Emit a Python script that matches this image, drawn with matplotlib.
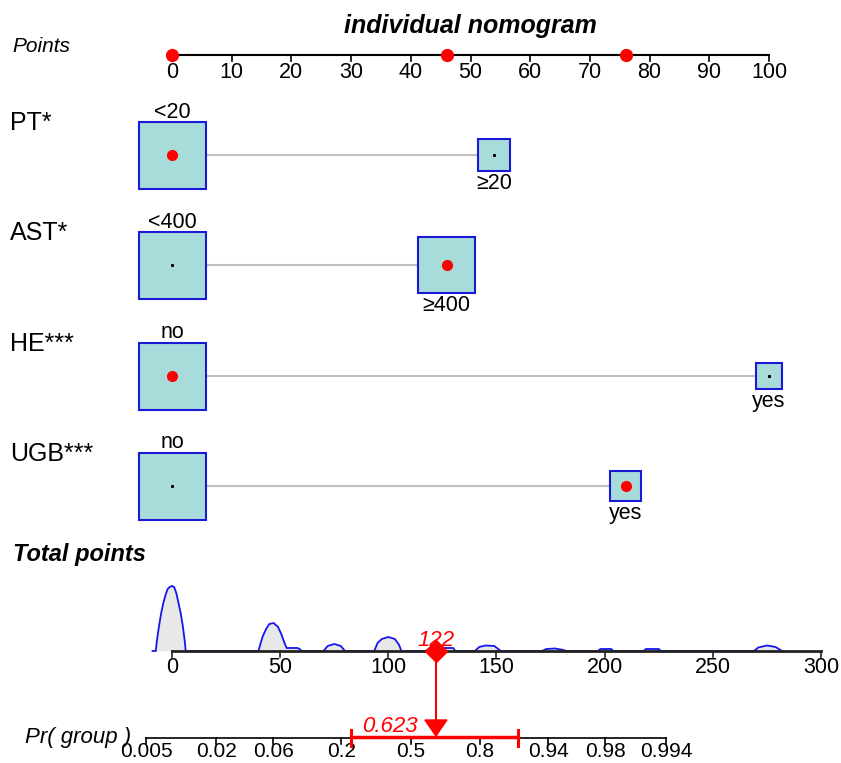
import numpy as np
import matplotlib
matplotlib.use("Agg")
import matplotlib.pyplot as plt
from matplotlib.patches import Rectangle, Polygon

plt.rcParams['font.family'] = ['Liberation Sans', 'DejaVu Sans']

# ---------------- data ----------------
title = "individual nomogram"
variables = ["PT*", "AST*", "HE***", "UGB***"]
levels = [["<20", "\u226520"], ["<400", "\u2265400"], ["no", "yes"], ["no", "yes"]]
level_points = [[0, 54], [0, 46], [0, 100], [0, 76]]
level_size = [[1.0, 0.48], [1.0, 0.84], [1.0, 0.39], [1.0, 0.46]]   # relative box side
selected = [0, 1, 0, 1]

points_ticks = [0, 10, 20, 30, 40, 50, 60, 70, 80, 90, 100]
total_ticks = [0, 50, 100, 150, 200, 250, 300]
prob_ticks = [0.005, 0.02, 0.06, 0.2, 0.5, 0.8, 0.94, 0.98, 0.994]
prob_tick_labels = ["0.005", "0.02", "0.06", "0.2", "0.5", "0.8", "0.94", "0.98", "0.994"]

# linear predictor: logit(p) = lp_slope * (total - lp_center)
lp_slope = 0.0433
lp_center = 110.3
prob_value = 0.623
prob_ci = [0.232, 0.896]

# density of total points (x in total points, y = relative height)
dens_x = [-9, -8.5, -7.5, -7, -6, -5, -4, -3, -2, -1, 0, 1, 2, 3, 4, 5, 6, 6.3,
          40, 41, 42, 43.5, 45, 47, 49, 50.5, 52, 53, 58, 59, 60,
          70, 72, 75, 78, 80,
          93.5, 95, 97, 100, 103, 105, 106,
          117, 119, 121, 124, 130, 131,
          140, 142, 145, 149, 152,
          171, 173, 177, 181, 182,
          197, 198, 203, 204,
          218, 219, 225, 226,
          269, 271, 275, 279, 282]
dens_y = [0, 0, 0, 10, 25, 38, 48, 56, 62, 64, 65, 64, 58, 48, 38, 25, 8, 0,
          0, 8, 15, 22, 27, 28, 24, 17, 8, 3, 3, 2, 0,
          0, 5, 7, 5, 0,
          0, 8, 12, 14, 12, 6, 0,
          0, 2, 3, 3, 3, 0,
          0, 4, 5.5, 5, 0,
          0, 2, 2.5, 1, 0,
          0, 2, 2, 0,
          0, 2, 2, 0,
          0, 3.5, 5.5, 4, 0]

# ---------------- layout ----------------
W, H = 841, 763
X0 = 172                 # pixel of 0 on both scales
PX_PER_POINT = 5.97
PX_PER_TOTAL = 2.1633
BOX_MAX = 67             # px
row_y = [155, 265, 376, 486]
points_y = 55
total_y = 651
prob_y = 738
red = "#ff0000"
box_face = "#a8dcda"
box_edge = "#1a1ad6"

fig = plt.figure(figsize=(W / 100, H / 100), dpi=100)
ax = fig.add_axes([0, 0, 1, 1])
ax.set_xlim(-X0 / PX_PER_POINT, (W - X0) / PX_PER_POINT)
ax.set_ylim(H, 0)
ax.axis("off")
ax2 = fig.add_axes([0, 0, 1, 1])
ax2.set_xlim(-X0 / PX_PER_TOTAL, (W - X0) / PX_PER_TOTAL)
ax2.set_ylim(H, 0)
ax2.axis("off")
ax2.patch.set_alpha(0)

def ftext(x, y, s, **kw):
    fig.text(x / W, 1 - y / H, s, **kw)

# title
ftext(470, 26, title, fontsize=18, fontweight="bold", style="italic", ha="center", va="center")

# Points axis
ftext(12, 47, "Points", fontsize=15, style="italic", ha="left", va="center")
ax.plot([points_ticks[0], points_ticks[-1]], [points_y, points_y], color="black", lw=1.5, zorder=2)
for t in points_ticks:
    ax.plot([t, t], [points_y, points_y + 6], color="black", lw=1.2)
    ax.text(t, points_y + 7, str(t), fontsize=15.5, ha="center", va="top")
sel_pts = sorted(set(level_points[i][selected[i]] for i in range(len(variables))))
ax.plot(sel_pts, [points_y] * len(sel_pts), "o", color=red, ms=8.5, zorder=3)

# variable rows
for i, var in enumerate(variables):
    y = row_y[i]
    ftext(10, y - 32, var, fontsize=18, ha="left", va="center")
    sides = [BOX_MAX * s for s in level_size[i]]
    xs = level_points[i]
    # connector
    x_right0 = xs[0] + sides[0] / 2 / PX_PER_POINT
    x_left1 = xs[1] - sides[1] / 2 / PX_PER_POINT
    ax.plot([x_right0, x_left1], [y, y], color="#c0c0c0", lw=1.5, zorder=1)
    for j in range(2):
        wpt = sides[j] / PX_PER_POINT
        rect = Rectangle((xs[j] - wpt / 2, y - sides[j] / 2), wpt, sides[j],
                         facecolor=box_face, edgecolor=box_edge, lw=1.5, zorder=2)
        ax.add_patch(rect)
        if j == selected[i]:
            ax.plot(xs[j], y, "o", color=red, ms=7, zorder=3)
        else:
            ax.plot(xs[j], y, "s", color="black", ms=1.2, zorder=3)
        if j == 0:
            ax.text(xs[j], y - sides[j] / 2 + 1, levels[i][j], fontsize=15.5, ha="center", va="bottom")
        else:
            ax.text(xs[j], y + sides[j] / 2 + 2, levels[i][j], fontsize=15.5, ha="center", va="top")

# Total points
ftext(13, 555, "Total points", fontsize=17, fontweight="bold", style="italic", ha="left", va="center")
dy = [total_y - v for v in dens_y]
ax2.fill_between(dens_x, dy, total_y, color="#e8e8e8", zorder=1, lw=0)
ax2.plot(dens_x, dy, color="#1515ee", lw=1.3, zorder=2)
ax2.plot([total_ticks[0], total_ticks[-1]], [total_y, total_y], color="#222222", lw=2, zorder=3)
for t in total_ticks:
    ax2.plot([t, t], [total_y, total_y + 6], color="#222222", lw=1.2, zorder=3)
    ax2.text(t, total_y + 6, str(t), fontsize=15.5, ha="center", va="top")

total = sum(level_points[i][selected[i]] for i in range(len(variables)))

def prob_to_total(p):
    return lp_center + np.log(p / (1 - p)) / lp_slope

# Pr axis
ftext(25, prob_y, "Pr( group )", fontsize=16, style="italic", ha="left", va="center")
ptx = [prob_to_total(p) for p in prob_ticks]
ax2.plot([ptx[0], ptx[-1]], [prob_y, prob_y], color="black", lw=1.2, zorder=2)
for x, lab in zip(ptx, prob_tick_labels):
    ax2.plot([x, x], [prob_y, prob_y + 6], color="black", lw=1.2, zorder=2)
    ax2.text(x, 757, lab, fontsize=15, ha="center", va="baseline")

# CI
cx = [prob_to_total(p) for p in prob_ci]
ax2.plot(cx, [prob_y - 1, prob_y - 1], color=red, lw=2.5, zorder=4)
for x in cx:
    ax2.plot([x, x], [prob_y - 8, prob_y + 8], color=red, lw=2.2, zorder=4)

# arrow from total to probability
tri_half = 11 / PX_PER_TOTAL
ax2.plot([total, total], [total_y, 722], color=red, lw=1.5, zorder=4)
ax2.add_patch(Polygon([[total - tri_half, 720], [total + tri_half, 720], [total, 736]],
                      closed=True, color=red, zorder=5))
ax2.plot(total, total_y, "D", color=red, ms=11, zorder=5)
ax2.text(total, 640, str(total), fontsize=16, style="italic", color=red, ha="center", va="center", zorder=6)
ax2.text(total - 8.3, 727, f"{prob_value:.3f}", fontsize=16, style="italic", color=red,
         ha="right", va="center", zorder=6)

fig.savefig("out.png", dpi=100)
